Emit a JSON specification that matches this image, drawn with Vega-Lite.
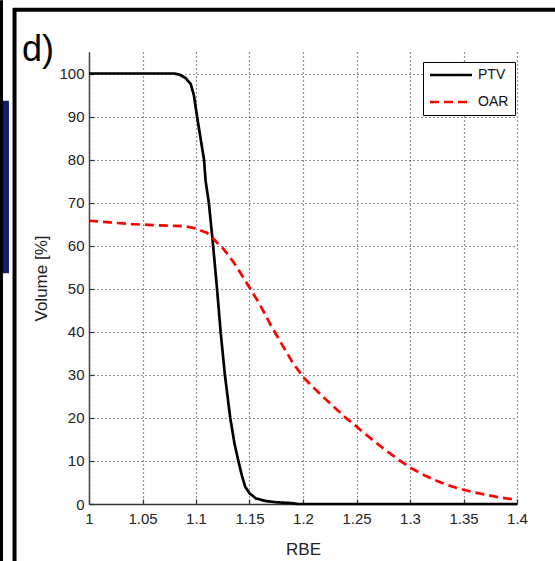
{
  "$schema": "https://vega.github.io/schema/vega-lite/v6.json",
  "width": 428,
  "height": 452,
  "autosize": "none",
  "padding": {"left": 89, "top": 52, "right": 38, "bottom": 57},
  "background": "white",
  "data": {"values": [{}]},
  "config": {
    "view": {"stroke": null},
    "font": "Liberation Sans",
    "axis": {"labelFont": "Liberation Sans", "titleFont": "Liberation Sans"},
    "legend": {"labelFont": "Liberation Sans"}
  },
  "datasets": {
    "curves": [
      {"series": "PTV", "rbe": 1.0, "vol": 100},
      {"series": "PTV", "rbe": 1.02, "vol": 100},
      {"series": "PTV", "rbe": 1.04, "vol": 100},
      {"series": "PTV", "rbe": 1.06, "vol": 100},
      {"series": "PTV", "rbe": 1.08, "vol": 100},
      {"series": "PTV", "rbe": 1.085, "vol": 99.7},
      {"series": "PTV", "rbe": 1.09, "vol": 99},
      {"series": "PTV", "rbe": 1.095, "vol": 97.6},
      {"series": "PTV", "rbe": 1.098, "vol": 95},
      {"series": "PTV", "rbe": 1.101, "vol": 90},
      {"series": "PTV", "rbe": 1.105, "vol": 83.8},
      {"series": "PTV", "rbe": 1.1075, "vol": 80},
      {"series": "PTV", "rbe": 1.109, "vol": 75},
      {"series": "PTV", "rbe": 1.112, "vol": 70},
      {"series": "PTV", "rbe": 1.116, "vol": 60},
      {"series": "PTV", "rbe": 1.12, "vol": 49},
      {"series": "PTV", "rbe": 1.123, "vol": 40},
      {"series": "PTV", "rbe": 1.127, "vol": 30},
      {"series": "PTV", "rbe": 1.13, "vol": 24},
      {"series": "PTV", "rbe": 1.132, "vol": 20},
      {"series": "PTV", "rbe": 1.136, "vol": 14},
      {"series": "PTV", "rbe": 1.1396, "vol": 10},
      {"series": "PTV", "rbe": 1.143, "vol": 6.5},
      {"series": "PTV", "rbe": 1.146, "vol": 4},
      {"series": "PTV", "rbe": 1.15, "vol": 2.5},
      {"series": "PTV", "rbe": 1.156, "vol": 1.3},
      {"series": "PTV", "rbe": 1.165, "vol": 0.7},
      {"series": "PTV", "rbe": 1.175, "vol": 0.4},
      {"series": "PTV", "rbe": 1.19, "vol": 0.2},
      {"series": "PTV", "rbe": 1.195, "vol": 0},
      {"series": "PTV", "rbe": 1.4, "vol": 0},
      {"series": "OAR", "rbe": 1.0, "vol": 65.8},
      {"series": "OAR", "rbe": 1.02, "vol": 65.4},
      {"series": "OAR", "rbe": 1.04, "vol": 65.0},
      {"series": "OAR", "rbe": 1.06, "vol": 64.8},
      {"series": "OAR", "rbe": 1.08, "vol": 64.6},
      {"series": "OAR", "rbe": 1.09, "vol": 64.5},
      {"series": "OAR", "rbe": 1.1, "vol": 64.0},
      {"series": "OAR", "rbe": 1.105, "vol": 63.5},
      {"series": "OAR", "rbe": 1.11, "vol": 63.0},
      {"series": "OAR", "rbe": 1.115, "vol": 62.0},
      {"series": "OAR", "rbe": 1.12, "vol": 60.6},
      {"series": "OAR", "rbe": 1.125, "vol": 59.5},
      {"series": "OAR", "rbe": 1.13, "vol": 57.8},
      {"series": "OAR", "rbe": 1.135, "vol": 56.2},
      {"series": "OAR", "rbe": 1.14, "vol": 54.3},
      {"series": "OAR", "rbe": 1.145, "vol": 52.3},
      {"series": "OAR", "rbe": 1.15, "vol": 50.3},
      {"series": "OAR", "rbe": 1.16, "vol": 46.2},
      {"series": "OAR", "rbe": 1.17, "vol": 41.5},
      {"series": "OAR", "rbe": 1.18, "vol": 37.2},
      {"series": "OAR", "rbe": 1.19, "vol": 33.0},
      {"series": "OAR", "rbe": 1.2, "vol": 29.5},
      {"series": "OAR", "rbe": 1.21, "vol": 27.0},
      {"series": "OAR", "rbe": 1.22, "vol": 24.6},
      {"series": "OAR", "rbe": 1.23, "vol": 22.3},
      {"series": "OAR", "rbe": 1.24, "vol": 20.0},
      {"series": "OAR", "rbe": 1.25, "vol": 18.0},
      {"series": "OAR", "rbe": 1.26, "vol": 15.9},
      {"series": "OAR", "rbe": 1.27, "vol": 13.9},
      {"series": "OAR", "rbe": 1.28, "vol": 12.0},
      {"series": "OAR", "rbe": 1.29, "vol": 10.2},
      {"series": "OAR", "rbe": 1.3, "vol": 8.5},
      {"series": "OAR", "rbe": 1.31, "vol": 7.1},
      {"series": "OAR", "rbe": 1.32, "vol": 5.9},
      {"series": "OAR", "rbe": 1.33, "vol": 4.9},
      {"series": "OAR", "rbe": 1.34, "vol": 4.0},
      {"series": "OAR", "rbe": 1.35, "vol": 3.3},
      {"series": "OAR", "rbe": 1.36, "vol": 2.7},
      {"series": "OAR", "rbe": 1.37, "vol": 2.2},
      {"series": "OAR", "rbe": 1.38, "vol": 1.7},
      {"series": "OAR", "rbe": 1.39, "vol": 1.3},
      {"series": "OAR", "rbe": 1.4, "vol": 1.0}
    ]
  },
  "layer": [
    {
      "data": {"name": "curves"},
      "mark": {"type": "line", "strokeWidth": 2.7, "clip": false},
      "encoding": {
        "x": {
          "field": "rbe",
          "type": "quantitative",
          "scale": {"domain": [1, 1.4], "nice": false, "zero": false},
          "axis": {
            "values": [1, 1.05, 1.1, 1.15, 1.2, 1.25, 1.3, 1.35, 1.4],
            "format": "~g",
            "title": "RBE",
            "grid": true,
            "gridDash": [1, 3],
            "gridColor": "#222",
            "gridWidth": 1.2,
            "domainColor": "#333",
            "domainWidth": 1.5,
            "tickSize": -5,
            "tickColor": "#333",
            "tickWidth": 1.2,
            "labelFontSize": 15,
            "labelColor": "#222",
            "labelPadding": 12,
            "labelFlush": false,
            "titleFontSize": 17,
            "titleFontWeight": "normal",
            "titleColor": "#222",
            "titlePadding": 15
          }
        },
        "y": {
          "field": "vol",
          "type": "quantitative",
          "scale": {"domain": [0, 105], "nice": false},
          "axis": {
            "values": [0, 10, 20, 30, 40, 50, 60, 70, 80, 90, 100],
            "title": "Volume [%]",
            "grid": true,
            "gridDash": [1, 3],
            "gridColor": "#222",
            "gridWidth": 1.2,
            "domainColor": "#444",
            "domainWidth": 1.5,
            "tickSize": -5,
            "tickColor": "#333",
            "tickWidth": 1.2,
            "labelFontSize": 15,
            "labelColor": "#222",
            "labelPadding": 10,
            "labelFlush": false,
            "titleFontSize": 17,
            "titleFontWeight": "normal",
            "titleColor": "#222",
            "titlePadding": 8
          }
        },
        "color": {
          "field": "series",
          "type": "nominal",
          "sort": ["PTV", "OAR"],
          "scale": {"domain": ["PTV", "OAR"], "range": ["#000000", "#ff0000"]},
          "legend": {
            "orient": "none",
            "legendX": 334,
            "legendY": 10,
            "title": null,
            "strokeColor": "#000",
            "fillColor": "#fff",
            "padding": 6,
            "symbolType": "M-6,0H36",
            "symbolSize": 4,
            "symbolStrokeWidth": 2.5,
            "labelFontSize": 14,
            "labelColor": "#111",
            "labelOffset": 35,
            "rowPadding": 13
          }
        },
        "strokeDash": {
          "field": "series",
          "type": "nominal",
          "sort": ["PTV", "OAR"],
          "scale": {"domain": ["PTV", "OAR"], "range": [[1, 0], [9, 5]]},
          "legend": null
        }
      }
    },
    {
      "mark": {"type": "rule", "color": "#000", "strokeWidth": 4, "clip": false},
      "encoding": {
        "x": {"datum": 0.929, "type": "quantitative"},
        "x2": {"datum": 1.44},
        "y": {"datum": 114.8, "type": "quantitative"},
        "y2": {"datum": 114.8}
      }
    },
    {
      "mark": {"type": "rule", "color": "#000", "strokeWidth": 4, "clip": false},
      "encoding": {
        "x": {"datum": 0.9304, "type": "quantitative"},
        "x2": {"datum": 0.9304},
        "y": {"datum": 115.2, "type": "quantitative"},
        "y2": {"datum": -14}
      }
    },
    {
      "mark": {"type": "rect", "color": "#101c70", "clip": false},
      "encoding": {
        "x": {"datum": 0.9168, "type": "quantitative"},
        "x2": {"datum": 0.9252},
        "y": {"datum": 93.7, "type": "quantitative"},
        "y2": {"datum": 53.6}
      }
    },
    {
      "mark": {"type": "rule", "color": "#000", "strokeWidth": 3, "clip": false},
      "encoding": {
        "x": {"datum": 0.9182, "type": "quantitative"},
        "x2": {"datum": 0.9182},
        "y": {"datum": 117, "type": "quantitative"},
        "y2": {"datum": -14}
      }
    },
    {
      "mark": {"type": "text", "align": "left", "baseline": "alphabetic", "fontSize": 36, "font": "Liberation Sans", "color": "#000", "clip": false},
      "encoding": {
        "x": {"datum": 0.9374, "type": "quantitative"},
        "y": {"datum": 103, "type": "quantitative"},
        "text": {"value": "d)"}
      }
    }
  ]
}
